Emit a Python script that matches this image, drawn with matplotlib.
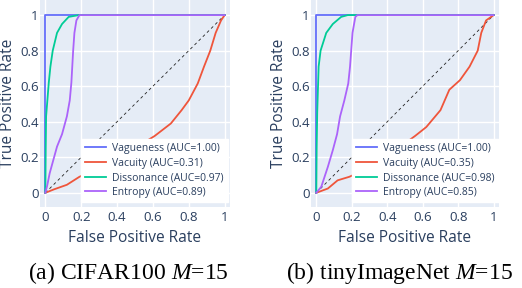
import numpy as np
import matplotlib
matplotlib.use("Agg")
import matplotlib.pyplot as plt

plt.rcParams['font.family'] = ['Open Sans', 'DejaVu Sans']
plt.rcParams['mathtext.fontset'] = 'custom'
plt.rcParams['mathtext.it'] = 'Liberation Serif:italic'
plt.rcParams['mathtext.rm'] = 'Liberation Serif'

# ROC curves: (fpr, tpr)
# (a) CIFAR100
a_vag_x = [0, 0, 1]
a_vag_y = [0, 1, 1]
a_vac_x = [0, 0.05, 0.12, 0.19, 0.30, 0.45, 0.61, 0.70, 0.76, 0.80, 0.85, 0.885, 0.92, 0.95, 0.98, 1]
a_vac_y = [0, 0.02, 0.045, 0.09, 0.14, 0.22, 0.32, 0.39, 0.465, 0.52, 0.615, 0.71, 0.80, 0.90, 0.97, 1]
a_dis_x = [0, 0.002, 0.004, 0.019, 0.028, 0.041, 0.065, 0.093, 0.13, 0.186, 1]
a_dis_y = [0, 0.25, 0.43, 0.62, 0.71, 0.80, 0.90, 0.95, 0.99, 1, 1]
a_ent_x = [0, 0.01, 0.024, 0.065, 0.093, 0.12, 0.136, 0.145, 0.155, 0.162, 0.173, 0.19, 1]
a_ent_y = [0, 0.04, 0.11, 0.26, 0.33, 0.43, 0.52, 0.62, 0.80, 0.90, 0.97, 1, 1]

# (b) tinyImageNet
b_vag_x = [0, 0, 1]
b_vag_y = [0, 1, 1]
b_vac_x = [0, 0.065, 0.12, 0.186, 0.30, 0.42, 0.557, 0.62, 0.70, 0.75, 0.81, 0.864, 0.91, 0.93, 0.957, 1]
b_vac_y = [0, 0.024, 0.07, 0.09, 0.14, 0.22, 0.32, 0.37, 0.465, 0.58, 0.634, 0.71, 0.80, 0.90, 0.97, 1]
b_dis_x = [0, 0.002, 0.005, 0.013, 0.024, 0.056, 0.093, 0.14, 0.177, 1]
b_dis_y = [0, 0.25, 0.45, 0.71, 0.80, 0.90, 0.95, 0.99, 1, 1]
b_ent_x = [0, 0.028, 0.065, 0.093, 0.117, 0.134, 0.158, 0.18, 0.19, 0.204, 0.22, 0.232, 1]
b_ent_y = [0, 0.034, 0.146, 0.24, 0.33, 0.43, 0.52, 0.615, 0.71, 0.90, 0.99, 1, 1]

a_auc = [1.00, 0.31, 0.97, 0.89]
b_auc = [1.00, 0.35, 0.98, 0.85]
names = ['Vagueness', 'Vacuity', 'Dissonance', 'Entropy']
colors = ['#636efa', '#EF553B', '#00cc96', '#ab63fa']
ticks = [0, 0.2, 0.4, 0.6, 0.8, 1]
tick_labels = ['0', '0.2', '0.4', '0.6', '0.8', '1']
captions = ['(a) CIFAR100 $M$=15', '(b) tinyImageNet $M$=15']

panels = [
    ([(a_vag_x, a_vag_y), (a_vac_x, a_vac_y), (a_dis_x, a_dis_y), (a_ent_x, a_ent_y)], a_auc),
    ([(b_vag_x, b_vag_y), (b_vac_x, b_vac_y), (b_dis_x, b_dis_y), (b_ent_x, b_ent_y)], b_auc),
]

txt = '#2a3f5f'
fig = plt.figure(figsize=(5.22, 2.88), dpi=100)
axes = [fig.add_axes([40/522, 81/288, 190/522, 207/288]),
        fig.add_axes([311/522, 81/288, 188/522, 207/288])]

for ax, (curves, aucs), anchor in zip(axes, panels, [0.99, 1.0]):
    ax.set_facecolor('#E5ECF6')
    for s in ax.spines.values():
        s.set_visible(False)
    ax.grid(color='white', lw=1.0)
    ax.set_axisbelow(True)
    ax.plot([0, 1], [0, 1], color='#222222', lw=0.6, dashes=(3.5, 3.5))
    for (x, y), n, c, auc in zip(curves, names, colors, aucs):
        ax.plot(x, y, color=c, lw=1.3, label='%s (AUC=%.2f)' % (n, auc))
    ax.set_xlim(-0.03, 1.03)
    ax.set_ylim(-0.08, 1.085)
    ax.set_xticks(ticks)
    ax.set_xticklabels(tick_labels)
    ax.set_yticks(ticks)
    ax.set_yticklabels(tick_labels)
    ax.tick_params(axis='x', length=0, labelsize=9.5, colors=txt, pad=3)
    ax.tick_params(axis='y', length=0, labelsize=9.5, colors=txt, pad=1)
    ax.set_xlabel('False Positive Rate', fontsize=11.2, color=txt, labelpad=4)
    ax.set_ylabel('True Positive Rate', fontsize=11.2, color=txt, labelpad=3)
    leg = ax.legend(loc='lower right', bbox_to_anchor=(anchor, 0.024), fontsize=7.5,
                    frameon=True, fancybox=False, framealpha=1, edgecolor='white',
                    handlelength=2.0, handletextpad=0.6, borderpad=0.4, labelspacing=0.35,
                    borderaxespad=0)
    for t in leg.get_texts():
        t.set_color(txt)

fig.text(128/522, 1 - 273/288, captions[0], fontsize=17, family='Liberation Serif', va='center', ha='center')
fig.text(399/522, 1 - 273/288, captions[1], fontsize=17, family='Liberation Serif', va='center', ha='center')

fig.savefig('out.png', dpi=100)
